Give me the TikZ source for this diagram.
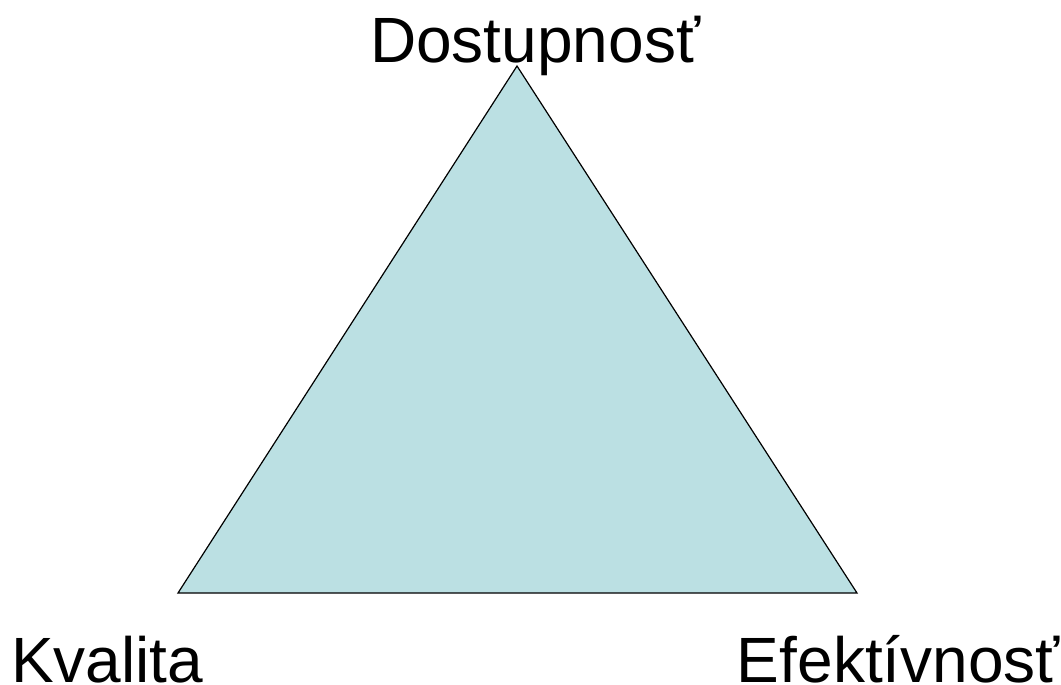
\documentclass[tikz,border=0pt]{standalone}
\usepackage{fontspec}
\setmainfont{Liberation Sans}
\definecolor{trifill}{RGB}{187,224,227}
\begin{document}
\begin{tikzpicture}[x=1bp,y=-1bp,
  lbl/.style={inner sep=0pt,font=\fontsize{64bp}{72bp}\selectfont}]
\useasboundingbox (0,0) rectangle (1061,685);
\coordinate (top) at (517,66);
\coordinate (left) at (178,593);
\coordinate (right) at (857,593);
\draw[fill=trifill,line width=1.2bp,line join=miter] (top) -- (right) -- (left) -- cycle;
\node[lbl,anchor=base west] (dost) at (370,63) {Dostupnosť};
\node[lbl,anchor=base west] (kval) at (11,682) {Kvalita};
\node[lbl,anchor=base east] (efek) at (1060,682) {Efektívnosť};
\end{tikzpicture}
\end{document}
